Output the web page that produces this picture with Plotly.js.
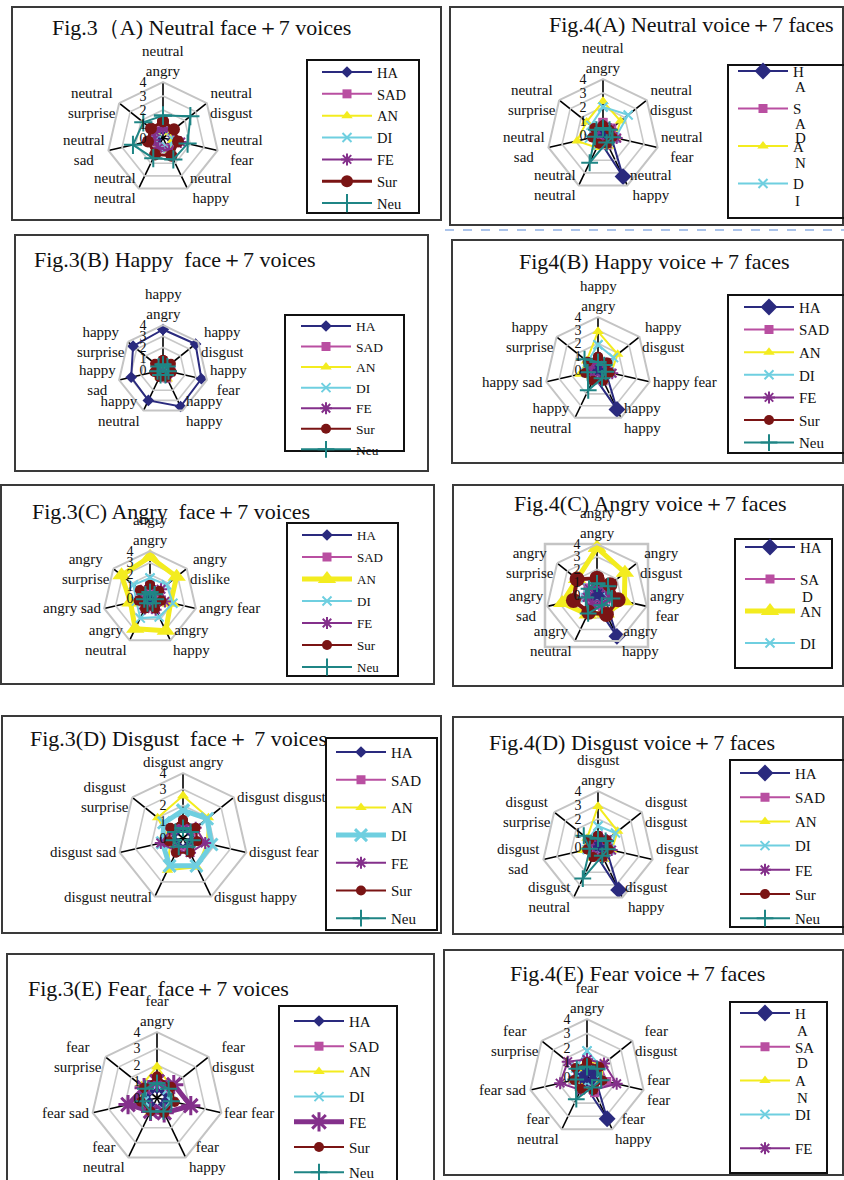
<!DOCTYPE html>
<html>
<head>
<meta charset="utf-8">
<script src="https://cdn.plot.ly/plotly-3.0.1.min.js"></script>
<style>
  html, body { margin: 0; padding: 0; background: #fff; overflow: hidden; }
  #chart { width: 844px; height: 1180px; }
</style>
</head>
<body>
<div id="chart"></div>
<script>
// ---- data -------------------------------------------------------------
const categories = ['angry', 'disgust', 'fear', 'happy', 'neutral', 'sad', 'surprise'];
const seriesNames = ['HA', 'SAD', 'AN', 'DI', 'FE', 'Sur', 'Neu'];

// axis labels (one per category, clockwise from the top)
const labels3A = ['neutral<br>angry', 'neutral<br>disgust', 'neutral<br>fear', 'neutral<br>happy', 'neutral<br>neutral', 'neutral<br>sad', 'neutral<br>surprise'];
const labels4A = ['neutral<br>angry', 'neutral<br>disgust', 'neutral<br>fear', 'neutral<br>happy', 'neutral<br>neutral', 'neutral<br>sad', 'neutral<br>surprise'];
const labels3B = ['happy<br>angry', 'happy<br>disgust', 'happy<br>fear', 'happy<br>happy', 'happy<br>neutral', 'happy<br>sad', 'happy<br>surprise'];
const labels4B = ['happy<br>angry', 'happy<br>disgust', 'happy fear', 'happy<br>happy', 'happy<br>neutral', 'happy sad', 'happy<br>surprise'];
const labels3C = ['angry<br>angry', 'angry<br>dislike', 'angry fear', 'angry<br>happy', 'angry<br>neutral', 'angry sad', 'angry<br>surprise'];
const labels4C = ['angry<br>angry', 'angry<br>disgust', 'angry<br>fear', 'angry<br>happy', 'angry<br>neutral', 'angry<br>sad', 'angry<br>surprise'];
const labels3D = ['disgust angry', 'disgust disgust', 'disgust fear', 'disgust happy', 'disgust neutral', 'disgust sad', 'disgust<br>surprise'];
const labels4D = ['disgust<br>angry', 'disgust<br>disgust', 'disgust<br>fear', 'disgust<br>happy', 'disgust<br>neutral', 'disgust<br>sad', 'disgust<br>surprise'];
const labels3E = ['fear<br>angry', 'fear<br>disgust', 'fear fear', 'fear<br>happy', 'fear<br>neutral', 'fear sad', 'fear<br>surprise'];
const labels4E = ['fear<br>angry', 'fear<br>disgust', 'fear<br>fear', 'fear<br>happy', 'fear<br>neutral', 'fear sad', 'fear<br>surprise'];

// ratings, one row per series (HA, SAD, AN, DI, FE, Sur, Neu)
const values3A = [
  [0.6, 0.6, 0.7, 0.8, 0.6, 0.5, 0.6],
  [0.8, 0.7, 0.9, 0.8, 0.7, 0.7, 0.8],
  [0.7, 0.6, 0.7, 1.0, 0.9, 0.8, 0.7],
  [0.7, 0.8, 0.8, 0.8, 0.7, 0.6, 0.6],
  [0.7, 0.9, 1.3, 1.0, 0.8, 0.7, 0.7],
  [1.2, 1.0, 1.1, 1.4, 1.3, 1.1, 1.1],
  [1.6, 2.5, 1.8, 1.7, 1.6, 2.2, 1.8]
];
const values4A = [
  [0.4, 0.5, 0.6, 3.3, 0.5, 0.4, 0.4],
  [0.9, 0.8, 1.0, 0.8, 0.6, 0.7, 0.8],
  [2.4, 1.6, 0.9, 0.9, 1.0, 1.9, 1.5],
  [2.0, 2.3, 0.9, 0.7, 0.8, 1.0, 1.1],
  [0.6, 0.7, 1.0, 0.7, 0.6, 0.6, 0.6],
  [0.7, 0.6, 0.7, 0.7, 0.7, 0.8, 0.8],
  [0.5, 0.6, 0.7, 0.6, 2.2, 0.6, 0.6]
];
const values3B = [
  [3.6, 3.7, 3.5, 3.6, 3.0, 2.9, 3.4],
  [0.7, 0.6, 0.7, 0.8, 0.6, 0.6, 0.7],
  [0.6, 0.6, 0.7, 0.9, 0.7, 0.6, 0.6],
  [0.6, 0.6, 0.6, 0.6, 0.6, 0.5, 0.6],
  [0.6, 0.6, 0.7, 0.7, 0.6, 0.6, 0.6],
  [0.9, 0.9, 0.8, 0.7, 0.7, 0.8, 0.9],
  [0.5, 0.5, 0.5, 0.5, 0.5, 0.5, 0.5]
];
const values4B = [
  [0.5, 0.5, 0.6, 3.3, 0.6, 0.5, 0.5],
  [0.8, 0.9, 1.0, 0.9, 0.8, 0.8, 0.8],
  [2.9, 1.9, 1.0, 0.9, 0.9, 1.4, 1.1],
  [1.9, 1.5, 0.9, 0.8, 0.8, 0.9, 1.0],
  [0.7, 0.8, 1.1, 0.8, 0.7, 0.7, 0.7],
  [1.0, 0.9, 0.9, 0.9, 0.9, 1.0, 1.0],
  [0.6, 0.6, 0.6, 0.7, 1.7, 0.8, 1.3]
];
const values3C = [
  [0.5, 0.5, 0.5, 0.5, 0.5, 0.5, 0.5],
  [0.9, 0.8, 0.9, 1.0, 0.9, 0.9, 0.9],
  [3.5, 2.9, 1.8, 3.1, 2.9, 1.7, 3.1],
  [1.7, 1.8, 2.0, 1.8, 1.9, 1.2, 1.8],
  [1.0, 1.2, 1.3, 1.1, 1.0, 0.9, 1.0],
  [1.1, 1.0, 1.0, 1.0, 1.0, 1.0, 1.1],
  [0.5, 0.5, 0.5, 0.5, 0.5, 0.5, 0.5]
];
const values4C = [
  [0.5, 0.6, 0.6, 3.6, 0.6, 0.5, 0.5],
  [0.9, 1.0, 1.1, 1.0, 0.9, 0.9, 0.9],
  [3.7, 2.8, 2.2, 1.6, 1.7, 2.8, 2.0],
  [1.4, 1.1, 0.9, 0.8, 0.8, 0.9, 0.9],
  [0.8, 0.9, 1.0, 0.8, 0.8, 0.8, 0.8],
  [1.3, 1.3, 1.7, 1.7, 1.5, 1.9, 2.0],
  [0.9, 1.1, 1.2, 0.9, 1.6, 0.9, 0.8]
];
const values3D = [
  [0.6, 0.6, 0.6, 0.6, 0.6, 0.6, 0.6],
  [0.8, 0.8, 0.9, 0.8, 0.8, 0.9, 0.8],
  [2.6, 2.0, 1.5, 2.0, 2.2, 0.8, 2.0],
  [1.7, 1.9, 1.8, 1.9, 1.9, 1.3, 1.5],
  [0.9, 1.0, 1.4, 1.0, 0.9, 1.4, 0.9],
  [1.1, 1.0, 0.9, 1.0, 1.0, 0.9, 1.0],
  [0.6, 0.6, 0.6, 0.6, 0.6, 0.6, 0.6]
];
const values4D = [
  [0.5, 0.5, 0.6, 3.4, 0.5, 0.5, 0.5],
  [0.8, 0.8, 0.9, 0.8, 0.7, 0.7, 0.8],
  [2.9, 1.8, 1.0, 1.0, 0.9, 1.1, 1.0],
  [1.5, 1.6, 0.9, 0.8, 0.7, 0.8, 0.9],
  [0.7, 0.8, 1.0, 0.8, 0.7, 0.7, 0.7],
  [0.8, 0.8, 0.8, 0.8, 0.8, 0.8, 0.8],
  [0.6, 0.7, 0.7, 0.7, 2.5, 0.6, 1.3]
];
const values3E = [
  [0.6, 0.6, 0.6, 0.6, 0.6, 0.6, 0.6],
  [0.9, 0.9, 1.0, 0.9, 0.9, 1.0, 0.9],
  [1.9, 1.1, 1.0, 1.1, 1.0, 1.0, 1.2],
  [0.8, 0.8, 0.9, 0.8, 0.8, 0.8, 0.8],
  [1.0, 1.3, 2.1, 1.0, 0.9, 1.8, 1.0],
  [1.3, 1.1, 1.1, 1.0, 0.9, 1.0, 1.0],
  [0.9, 0.9, 0.9, 0.9, 0.9, 0.9, 0.9]
];
const values4E = [
  [0.5, 0.6, 0.6, 3.2, 0.5, 0.5, 0.5],
  [1.0, 1.2, 1.4, 1.2, 0.9, 1.0, 1.0],
  [1.1, 1.4, 1.0, 0.9, 0.8, 0.9, 0.9],
  [1.8, 1.2, 1.0, 0.8, 0.8, 0.9, 1.0],
  [1.2, 1.5, 2.1, 1.0, 1.0, 1.9, 1.7],
  [1.0, 1.1, 1.1, 1.0, 0.9, 0.9, 1.0],
  [0.7, 0.9, 1.0, 0.8, 1.7, 0.8, 0.9]
];

const radialTicks = [0, 1, 2, 3, 4];

// ---- styling ----------------------------------------------------------
const W = 844, H = 1180;
const SERIF = 'Liberation Serif, Times New Roman, serif';
const colors = { HA: '#2a2a7e', SAD: '#b94fa1', AN: '#f3ec1f', DI: '#6fcfe0', FE: '#84308b', Sur: '#7a1414', Neu: '#1f8585' };
const symbols = { HA: 'diamond', SAD: 'square', AN: 'triangle-up', DI: 'x-thin-open', FE: 'asterisk-open', Sur: 'circle', Neu: 'cross-thin-open' };
const baseSize = { HA: 9, SAD: 9, AN: 10, DI: 9, FE: 10, Sur: 10, Neu: 12 };

// geometry of each panel in page pixels
const panels = [
  { id: '3A', title: 'Fig.3（A) Neutral face＋7 voices', tx: 50, ty: 28, labels: labels3A, values: values3A,
    cx: 163, cy: 138, r: 56, box: [12, 7, 441, 220], lbox: [307, 60, 419, 213],
    leg: { x: 317, y0: 72, step: 21.7, font: 14.5 }, sizes: { Sur: 12, Neu: 13 }, widths: { Sur: 3 } },
  { id: '4A', title: 'Fig.4(A) Neutral voice＋7 faces', tx: 547, ty: 25, labels: labels4A, values: values4A,
    cx: 603, cy: 135, r: 56, box: [450, 7, 843, 225], lbox: [728, 65, 850, 218],
    leg: { x: 733, y0: 71, step: 37.5, font: 15 }, sizes: { HA: 13 },
    names: { HA: 'H', SAD: 'S', AN: 'A', DI: 'D' },
    extra: [['A', 87], ['A', 124], ['D', 138], ['N', 163], ['I', 201]] },
  { id: '3B', title: 'Fig.3(B) Happy  face＋7 voices', tx: 32, ty: 260, labels: labels3B, values: values3B,
    cx: 163, cy: 370, r: 45, box: [15, 235, 428, 471], lbox: [285, 315, 404, 451],
    leg: { x: 296, y0: 326, step: 19.3, font: 13.5 }, sizes: {} },
  { id: '4B', title: 'Fig4(B) Happy voice＋7 faces', tx: 517, ty: 262, labels: labels4B, values: values4B,
    cx: 598, cy: 370, r: 53, box: [452, 240, 843, 463], lbox: [728, 295, 850, 453],
    leg: { x: 739, y0: 307, step: 22.6, font: 15 }, sizes: { HA: 13 } },
  { id: '3C', title: 'Fig.3(C) Angry  face＋7 voices', tx: 30, ty: 511, labels: labels3C, values: values3C,
    cx: 150, cy: 598, r: 47, box: [1, 485, 434, 684], lbox: [287, 523, 398, 676],
    leg: { x: 297, y0: 535, step: 22, font: 13 }, sizes: { AN: 16 }, bold: 'AN' },
  { id: '4C', title: 'Fig.4(C) Angry voice＋7 faces', tx: 512, ty: 503, labels: labels4C, values: values4C,
    cx: 597, cy: 595, r: 51, box: [453, 485, 843, 686], lbox: [735, 539, 832, 668],
    leg: { x: 740, y0: 547, step: 32, font: 15 }, sizes: { HA: 13, AN: 16, Sur: 15 }, widths: { Sur: 4 }, bold: 'AN',
    names: { HA: 'HA', SAD: 'SA', AN: 'AN', DI: 'DI' },
    extra: [['D', 597]], frame: [545, 544, 648, 647] },
  { id: '3D', title: 'Fig.3(D) Disgust  face＋ 7 voices', tx: 28, ty: 738, labels: labels3D, values: values3D,
    cx: 183, cy: 838, r: 65, box: [2, 716, 441, 933], lbox: [326, 738, 437, 930],
    leg: { x: 331, y0: 752, step: 27.7, font: 15 }, sizes: { DI: 12 }, bold: 'DI' },
  { id: '4D', title: 'Fig.4(D) Disgust voice＋7 faces', tx: 487, ty: 742, labels: labels4D, values: values4D,
    cx: 598, cy: 847, r: 56, box: [453, 717, 843, 934], lbox: [730, 760, 850, 927],
    leg: { x: 735, y0: 773, step: 24.2, font: 15 }, sizes: { HA: 13 } },
  { id: '3E', title: 'Fig.3(E) Fear  face＋7 voices', tx: 26, ty: 988, labels: labels3E, values: values3E,
    cx: 157, cy: 1098, r: 66, box: [7, 954, 434, 1190], lbox: [279, 1006, 397, 1190],
    leg: { x: 289, y0: 1021, step: 25.2, font: 15 }, sizes: { FE: 16 }, bold: 'FE' },
  { id: '4E', title: 'Fig.4(E) Fear voice＋7 faces', tx: 508, ty: 973, labels: labels4E, values: values4E,
    cx: 587, cy: 1077, r: 58, box: [444, 950, 843, 1175], lbox: [730, 1002, 827, 1173],
    leg: { x: 735, y0: 1013, step: 33.8, font: 15 }, sizes: { HA: 13 },
    names: { HA: 'H', SAD: 'SA', AN: 'A', DI: 'DI', FE: 'FE' },
    extra: [['A', 1031], ['D', 1063], ['N', 1098]] }
];

const px = x => x / W;
const py = y => 1 - y / H;

const traces = [];
const layout = {
  width: W, height: H,
  margin: { l: 0, r: 0, t: 0, b: 0, autoexpand: false },
  paper_bgcolor: '#ffffff',
  font: { family: SERIF, color: '#111' },
  shapes: [], annotations: []
};

panels.forEach((p, i) => {
  const k = i === 0 ? '' : String(i + 1);
  const polarKey = 'polar' + k;
  const legendKey = 'legend' + k;

  layout[polarKey] = {
    domain: { x: [px(p.cx - p.r), px(p.cx + p.r)], y: [py(p.cy + p.r), py(p.cy - p.r)] },
    bgcolor: 'rgba(0,0,0,0)',
    gridshape: 'linear',
    angularaxis: {
      type: 'category', direction: 'clockwise', rotation: 90,
      categoryarray: categories, categoryorder: 'array',
      showticklabels: false, ticks: '',
      showline: true, linecolor: '#c4c4c4', linewidth: 2,
      showgrid: true, gridcolor: '#000', gridwidth: 1.6
    },
    radialaxis: {
      range: [0, 4], tickmode: 'array', tickvals: radialTicks,
      // en spaces keep the scale numbers a little clear of the vertical spoke
      ticktext: radialTicks.map(v => v + '\u2002\u2002'),
      angle: 90, side: 'counterclockwise', tickangle: 90,
      showline: false, ticks: '', gridcolor: '#c8c8c8', gridwidth: 1.6,
      tickfont: { family: SERIF, size: 14, color: '#111' }
    }
  };

  // category labels sit beside the end of each spoke, as in a spreadsheet radar chart
  categories.forEach((c, ci) => {
    const a = 2 * Math.PI * ci / categories.length;
    const sx = Math.sin(a), cy = Math.cos(a);
    const vx = p.cx + p.r * sx, vy = p.cy - p.r * cy;
    const top = ci === 0;
    const xa = Math.abs(sx) < 0.1 ? 'center' : (sx > 0 ? 'left' : 'right');
    layout.annotations.push({
      xref: 'paper', yref: 'paper',
      x: px(vx + (xa === 'left' ? 1 : xa === 'right' ? -1 : 0)),
      y: py(top ? vy - 1 : vy),
      xanchor: xa, yanchor: top ? 'bottom' : 'middle', align: 'center',
      showarrow: false, text: p.labels[ci],
      font: { family: SERIF, size: 15, color: '#111' }
    });
  });

  const fs = p.leg.font;
  const itemH = 1.3 * fs + 3;
  layout[legendKey] = {
    x: px(p.leg.x), xanchor: 'left',
    y: py(p.leg.y0 - itemH / 2 - 5), yanchor: 'top',
    bgcolor: 'rgba(0,0,0,0)', borderwidth: 0,
    font: { family: SERIF, size: fs, color: '#111' },
    itemwidth: 50, itemsizing: 'trace',
    tracegroupgap: Math.max(0, p.leg.step - itemH),
    itemclick: false, itemdoubleclick: false
  };

  seriesNames.forEach((s, j) => {
    const bold = p.bold === s;
    const size = (p.sizes && p.sizes[s]) || (bold ? 14 : baseSize[s]);
    const width = (p.widths && p.widths[s]) || (bold ? 5 : 2);
    const open = symbols[s].indexOf('open') >= 0;
    const vals = p.values[j];
    const inLegend = !p.names || p.names[s] !== undefined;
    traces.push({
      type: 'scatterpolar', subplot: polarKey, legend: legendKey,
      legendgroup: p.id + s, showlegend: inLegend,
      name: p.names ? (p.names[s] || s) : s,
      theta: categories.concat([categories[0]]),
      r: vals.concat([vals[0]]),
      mode: 'lines+markers',
      line: { color: colors[s], width: width },
      marker: {
        symbol: symbols[s], size: size, color: colors[s],
        line: { color: colors[s], width: open ? (bold ? 3 : 2) : 0 }
      },
      hoverinfo: 'skip'
    });
  });

  // panel frame and legend frame
  layout.shapes.push({ type: 'rect', xref: 'paper', yref: 'paper',
    x0: px(p.box[0]), x1: px(p.box[2]), y0: py(p.box[3]), y1: py(p.box[1]),
    line: { color: '#3a3a3a', width: 2 }, layer: 'below' });
  layout.shapes.push({ type: 'rect', xref: 'paper', yref: 'paper',
    x0: px(p.lbox[0]), x1: px(p.lbox[2]), y0: py(p.lbox[3]), y1: py(p.lbox[1]),
    line: { color: '#111', width: 2 }, layer: 'below' });
  if (p.frame) {
    layout.shapes.push({ type: 'rect', xref: 'paper', yref: 'paper',
      x0: px(p.frame[0]), x1: px(p.frame[2]), y0: py(p.frame[3]), y1: py(p.frame[1]),
      line: { color: '#c4c4c4', width: 2.5 }, layer: 'below' });
  }

  layout.annotations.push({ xref: 'paper', yref: 'paper', x: px(p.tx), y: py(p.ty),
    xanchor: 'left', yanchor: 'middle', showarrow: false, text: p.title,
    font: { family: SERIF, size: 22, color: '#111' } });

  // wrapped remainder of narrow legend labels
  (p.extra || []).forEach(([t, y]) => {
    layout.annotations.push({ xref: 'paper', yref: 'paper', x: px(p.leg.x + 60), y: py(y),
      xanchor: 'left', yanchor: 'middle', showarrow: false, text: t,
      font: { family: SERIF, size: 15, color: '#111' } });
  });
});

// dashed separator between the first two right-hand panels
layout.shapes.push({ type: 'line', xref: 'paper', yref: 'paper',
  x0: px(445), x1: px(844), y0: py(230), y1: py(230),
  line: { color: '#5b8ad6', width: 1.2, dash: 'dash' } });

Plotly.newPlot('chart', traces, layout, { staticPlot: true, displayModeBar: false });
</script>
</body>
</html>
